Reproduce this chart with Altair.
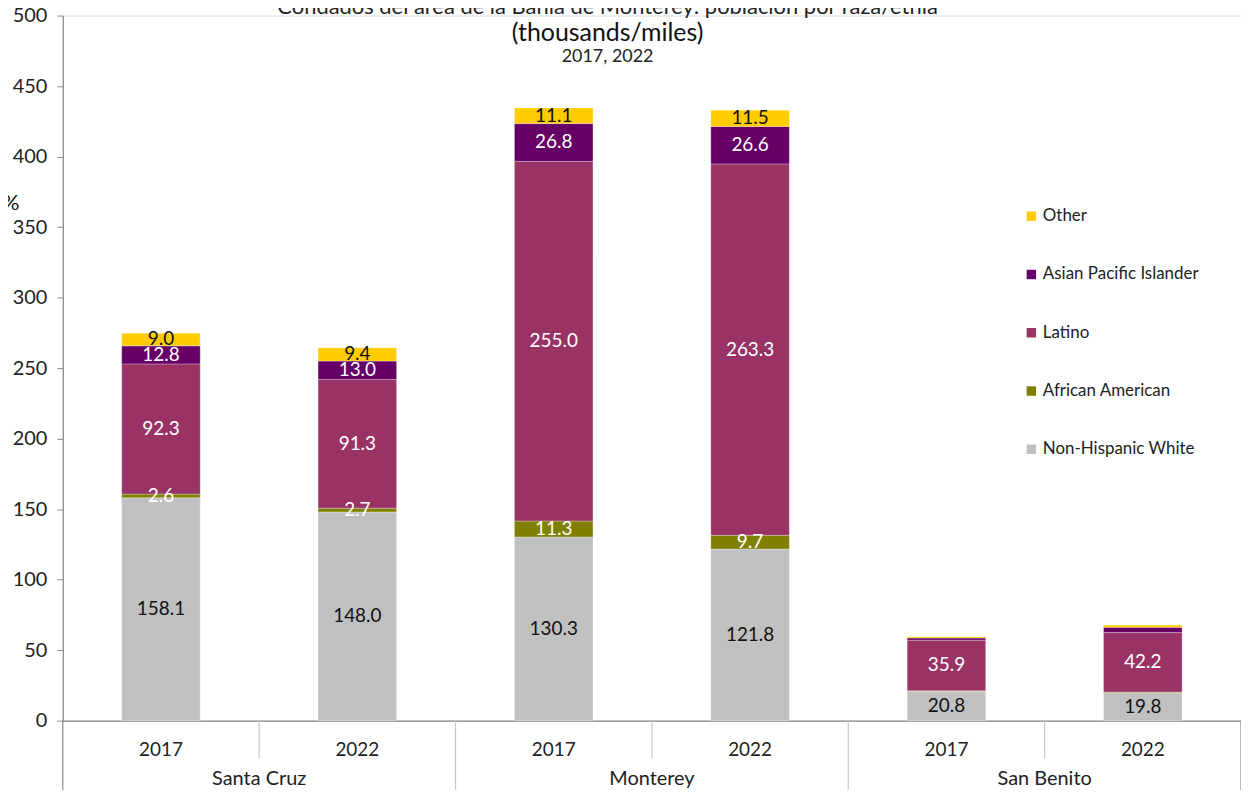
import altair as alt
import pandas as pd

counties = ["Santa Cruz", "Monterey", "San Benito"]
years = ["2017", "2022"]
races = ["Non-Hispanic White", "African American", "Latino", "Asian Pacific Islander", "Other"]
# values per bar (county, year) in race order
nhw = [158.1, 148.0, 130.3, 121.8, 20.8, 19.8]
aa = [2.6, 2.7, 11.3, 9.7, 0.4, 0.5]
latino = [92.3, 91.3, 255.0, 263.3, 35.9, 42.2]
api = [12.8, 13.0, 26.8, 26.6, 1.6, 3.7]
other = [9.0, 9.4, 11.1, 11.5, 0.9, 1.6]
y_ticks = [0, 50, 100, 150, 200, 250, 300, 350, 400, 450, 500]

title1 = "Condados del área de la Bahía de Monterey: población por raza/etnia"
title2 = "(thousands/miles)"
title3 = "2017, 2022"

FONT = "Lato"
colors = {"Non-Hispanic White": "#C0C0C0", "African American": "#808000",
          "Latino": "#993366", "Asian Pacific Islander": "#660066", "Other": "#FFCC00"}

series = [nhw, aa, latino, api, other]
rows = []
slot = 0
for ci, c in enumerate(counties):
    for yi, yr in enumerate(years):
        base = 0.0
        for r, vals in zip(races, series):
            v = vals[slot]
            rows.append(dict(county=c, year=yr, slot=slot, race=r, value=v,
                             y0=base, y1=base + v, ym=base + v / 2,
                             xl=slot + 0.3, xr=slot + 0.7, xc=slot + 0.5,
                             order=races.index(r)))
            base += v
        slot += 1
df = pd.DataFrame(rows)

nslots = len(counties) * len(years)
xscale = alt.Scale(domain=[0, nslots], nice=False, zero=False)
yscale = alt.Scale(domain=[0, 500], nice=False)

H = 708
legend_order = ["Other", "Asian Pacific Islander", "Latino", "African American", "Non-Hispanic White"]

bars = alt.Chart(df).mark_bar(stroke="#ffffff", strokeWidth=0.6, strokeOpacity=0.5).encode(
    x=alt.X("xl:Q", scale=xscale,
            axis=alt.Axis(labels=False, ticks=False, grid=False, title=None,
                          domainColor="#888888", domainWidth=1.2)),
    x2="xr:Q",
    y=alt.Y("y0:Q", scale=yscale,
            axis=alt.Axis(values=y_ticks, grid=False, title="%", titleAngle=0,
                          titleX=-44, titleY=188, titleAlign="right", titleBaseline="middle",
                          titleFont=FONT, titleFontSize=22, titleFontWeight="normal",
                          titleColor="#111111",
                          labelFont=FONT, labelFontSize=20, labelColor="#222222",
                          labelPadding=10, tickSize=6, tickColor="#888888",
                          domainColor="#888888", domainWidth=1.2)),
    y2="y1:Q",
    color=alt.Color("race:N", scale=alt.Scale(domain=legend_order,
                                              range=[colors[r] for r in legend_order]),
                    legend=alt.Legend(title=None, orient="none", legendX=964, legendY=193,
                                      symbolType="square", symbolSize=90, symbolStrokeWidth=0,
                                      labelFont=FONT, labelFontSize=17, labelColor="#222222",
                                      rowPadding=40.5, labelOffset=3, padding=0)),
)

labels = alt.Chart(df).transform_filter(
    "datum.county != 'San Benito' || datum.value > 10").mark_text(
    font=FONT, fontSize=19, baseline="middle", align="center").encode(
    x=alt.X("xc:Q", scale=xscale),
    y=alt.Y("ym:Q", scale=yscale),
    text=alt.Text("value:Q", format=".1f"),
    color=alt.condition("datum.race == 'Non-Hispanic White' || datum.race == 'Other'",
                        alt.value("#111111"), alt.value("#ffffff")),
)

# category axis pieces
sep_rows = []
for s in range(1, nslots):
    sep_rows.append(dict(pos=s, kind="county" if s % len(years) == 0 else "year"))
sep = pd.DataFrame(sep_rows)
year_sep = alt.Chart(sep).transform_filter("datum.kind == 'year'").mark_rule(
    color="#c8c8c8", strokeWidth=1.2).encode(
    x=alt.X("pos:Q", scale=xscale), y=alt.value(H), y2=alt.value(H + 38))
county_sep = alt.Chart(sep).transform_filter("datum.kind == 'county'").mark_rule(
    color="#c8c8c8", strokeWidth=1.2).encode(
    x=alt.X("pos:Q", scale=xscale), y=alt.value(H), y2=alt.value(H + 80))
edges = pd.DataFrame({"pos": [0, nslots]})
edge_rules = alt.Chart(edges).mark_rule(color="#888888", strokeWidth=1.2).encode(
    x=alt.X("pos:Q", scale=xscale), y=alt.value(H), y2=alt.value(H + 80))

yl = df[df.race == races[0]][["xc", "year"]]
year_labels = alt.Chart(yl).mark_text(font=FONT, fontSize=19, color="#222222",
                                      baseline="middle").encode(
    x=alt.X("xc:Q", scale=xscale), y=alt.value(H + 29), text="year:N")
cl = pd.DataFrame({"county": counties,
                   "xc": [i * len(years) + len(years) / 2 for i in range(len(counties))]})
county_labels = alt.Chart(cl).mark_text(font=FONT, fontSize=20, color="#222222",
                                        baseline="middle").encode(
    x=alt.X("xc:Q", scale=xscale), y=alt.value(H + 59), text="county:N")

tdf = pd.DataFrame({"t": [title1, title2, title3], "i": [0, 1, 2]})
t1 = alt.Chart(tdf).transform_filter("datum.i == 0").mark_text(
    font=FONT, fontSize=22, color="#222222", baseline="middle").encode(
    x=alt.value(547), y=alt.value(-9), text="t:N")
t2 = alt.Chart(tdf).transform_filter("datum.i == 1").mark_text(
    font=FONT, fontSize=25, color="#111111", baseline="middle").encode(
    x=alt.value(547), y=alt.value(18), text="t:N")
t3 = alt.Chart(tdf).transform_filter("datum.i == 2").mark_text(
    font=FONT, fontSize=18, color="#222222", baseline="middle").encode(
    x=alt.value(547), y=alt.value(42), text="t:N")

chart = alt.layer(bars, labels, year_sep, county_sep, edge_rules, year_labels,
                  county_labels, t1, t2, t3).properties(
    width=1183, height=H,
    autosize=alt.AutoSizeParams(type="none"),
    padding={"left": 55, "top": 6, "right": 0, "bottom": 68},
).configure_view(stroke=None).configure(background="white")

chart.save("out.html", embed_options={"renderer": "svg", "actions": False})
